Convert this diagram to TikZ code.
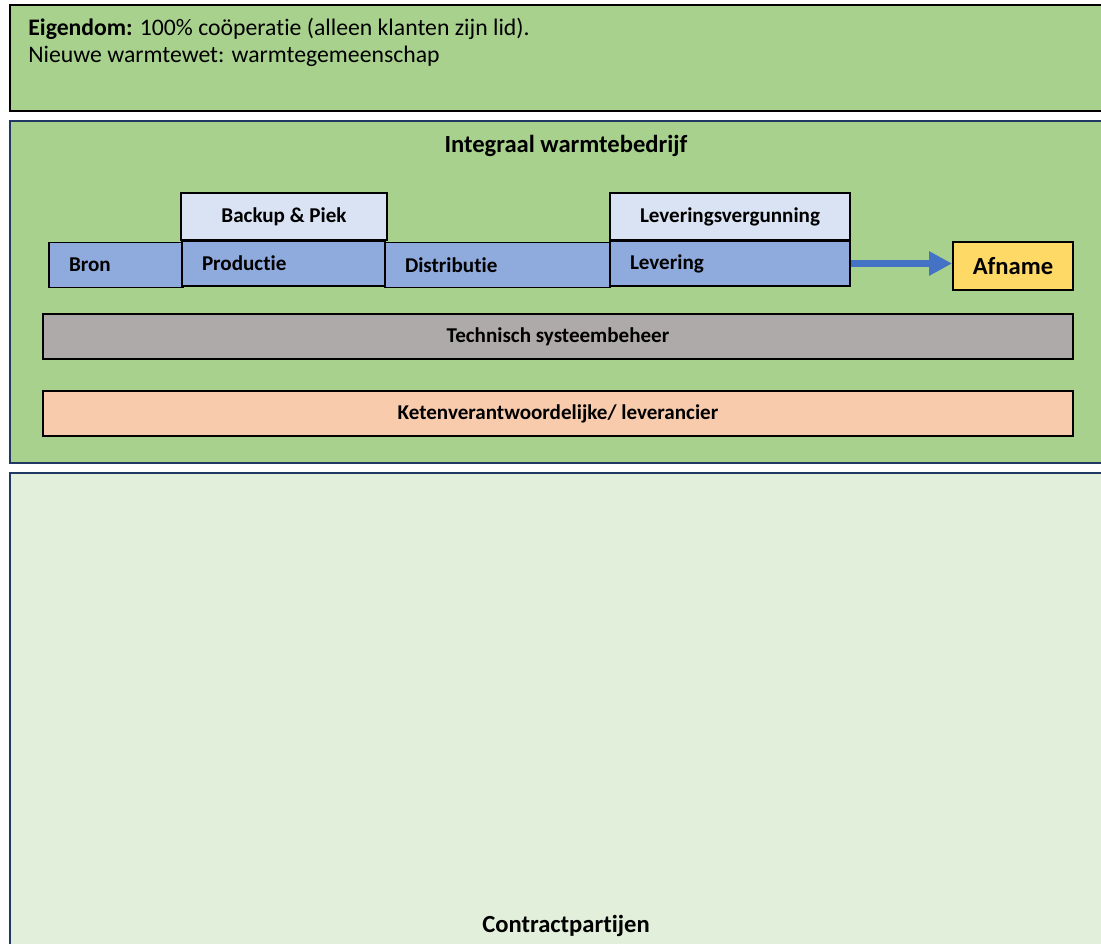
\documentclass[tikz,border=0pt]{standalone}
\usepackage{fontspec}
\setmainfont{Carlito}[Ligatures={NoCommon}]
\usetikzlibrary{arrows.meta}
\definecolor{groen}{HTML}{A9D18E}
\definecolor{lichtgroen}{HTML}{E2EFDA}
\definecolor{rand}{HTML}{203864}
\definecolor{blauw}{HTML}{8FAADC}
\definecolor{lichtblauw}{HTML}{DAE3F3}
\definecolor{pijlblauw}{HTML}{4472C4}
\definecolor{geel}{HTML}{FFD966}
\definecolor{grijs}{HTML}{AEAAAA}
\definecolor{zalm}{HTML}{F8CBAD}
\tikzset{
	kader/.style={line width=1.2pt, draw=rand},
	blok/.style={draw, line width=1.1pt, fill=blauw, minimum height=0.9cm, inner xsep=0.4cm, align=left, font=\fontsize{12}{14}\selectfont\bfseries},
	extra/.style={draw, line width=1.1pt, fill=lichtblauw, minimum height=0.94cm, font=\fontsize{12}{14}\selectfont\bfseries},
	balk/.style={draw, line width=1.1pt, minimum width=20.6cm, minimum height=0.9cm, font=\fontsize{12}{14}\selectfont\bfseries},
	pijl/.style={draw=pijlblauw, line width=4.5pt, -{Triangle[length=0.46cm,width=0.46cm]}}
}
\begin{document}
\begin{tikzpicture}[x=0.02cm, y=-0.02cm]
		\useasboundingbox (0,0) rectangle (1101,943);
		% Eigendom
		\draw [line width=1.6pt, fill=groen] (10,5) rectangle (1106,111);
		\node [anchor=north west, inner sep=0pt, align=left, font=\fontsize{13.5}{15.3}\selectfont] (eigendom) at (28,18) {\textbf{Eigendom:} 100\% coöperatie (alleen klanten zijn lid).\\Nieuwe warmtewet: warmtegemeenschap};
		% Integraal warmtebedrijf
		\draw [kader, fill=groen] (10,121) rectangle (1106,463);
		\node [font=\fontsize{14}{16}\selectfont\bfseries] (titel) at (566,146) {Integraal warmtebedrijf};
		%%%% Keten
		\node [extra, minimum width=4.12cm] (backup) at (284,216.5) {Backup \& Piek};
		\node [extra, minimum width=4.8cm] (vergunning) at (730,216.5) {Leveringsvergunning};
		\node [blok, text width=1.88cm] (bron) at (116,265) {Bron};
		\node [blok, text width=3.26cm] (productie) at (283.5,263.5) {Productie};
		\node [blok, text width=3.7cm] (distributie) at (497.5,265) {Distributie};
		\node [blok, text width=4.0cm] (levering) at (730,263.5) {Levering};
		\node [draw, line width=1.1pt, fill=geel, minimum width=2.4cm, minimum height=0.96cm, font=\fontsize{14}{16}\selectfont\bfseries] (afname) at (1013,266) {Afname};
		\draw [pijl] (levering.east) -- (levering.east -| afname.west);
		% Balken
		\node [balk, fill=grijs] (techniek) at (558,336.5) {Technisch systeembeheer};
		\node [balk, fill=zalm] (keten) at (558,413.5) {Ketenverantwoordelijke/ leverancier};
		%%%% Contractpartijen
		\draw [kader, fill=lichtgroen] (10,473) rectangle (1106,950);
		\node [font=\fontsize{14}{16}\selectfont\bfseries] (contract) at (566,926) {Contractpartijen};
\end{tikzpicture}
\end{document}
